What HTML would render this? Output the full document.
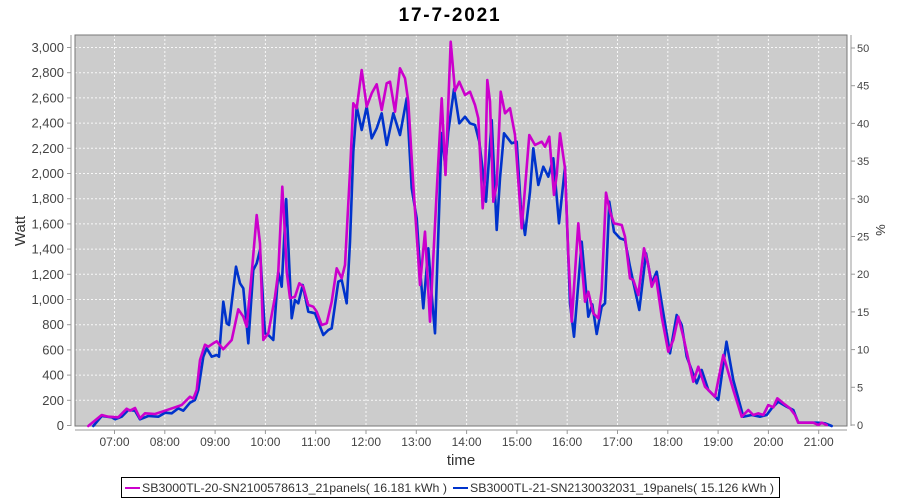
<!DOCTYPE html>
<html><head><meta charset="utf-8">
<style>
html,body{margin:0;padding:0;background:#fff;}
svg{display:block;}
text{font-family:"Liberation Sans",sans-serif;}
</style></head>
<body>
<svg width="900" height="500" viewBox="0 0 900 500" xmlns="http://www.w3.org/2000/svg">
<rect x="0" y="0" width="900" height="500" fill="#ffffff"/>
<text x="450" y="21" text-anchor="middle" font-size="19" font-weight="bold" fill="#000" letter-spacing="1.8">17-7-2021</text>
<rect x="75" y="35" width="772" height="391" fill="#cccccc"/>
<g stroke="#f8f8f8" stroke-width="1" stroke-dasharray="2,2">
<line x1="75" x2="847" y1="400.3" y2="400.3"/><line x1="75" x2="847" y1="375.1" y2="375.1"/>
<line x1="75" x2="847" y1="349.9" y2="349.9"/><line x1="75" x2="847" y1="324.7" y2="324.7"/>
<line x1="75" x2="847" y1="299.5" y2="299.5"/><line x1="75" x2="847" y1="274.3" y2="274.3"/>
<line x1="75" x2="847" y1="249.1" y2="249.1"/><line x1="75" x2="847" y1="223.9" y2="223.9"/>
<line x1="75" x2="847" y1="198.7" y2="198.7"/><line x1="75" x2="847" y1="173.5" y2="173.5"/>
<line x1="75" x2="847" y1="148.3" y2="148.3"/><line x1="75" x2="847" y1="123.1" y2="123.1"/>
<line x1="75" x2="847" y1="97.9" y2="97.9"/><line x1="75" x2="847" y1="72.7" y2="72.7"/>
<line x1="75" x2="847" y1="47.5" y2="47.5"/>
<line y1="35" y2="426" x1="114.5" x2="114.5"/><line y1="35" y2="426" x1="164.8" x2="164.8"/>
<line y1="35" y2="426" x1="215.1" x2="215.1"/><line y1="35" y2="426" x1="265.4" x2="265.4"/>
<line y1="35" y2="426" x1="315.7" x2="315.7"/><line y1="35" y2="426" x1="366" x2="366"/>
<line y1="35" y2="426" x1="416.3" x2="416.3"/><line y1="35" y2="426" x1="466.6" x2="466.6"/>
<line y1="35" y2="426" x1="516.9" x2="516.9"/><line y1="35" y2="426" x1="567.2" x2="567.2"/>
<line y1="35" y2="426" x1="617.5" x2="617.5"/><line y1="35" y2="426" x1="667.8" x2="667.8"/>
<line y1="35" y2="426" x1="718.1" x2="718.1"/><line y1="35" y2="426" x1="768.4" x2="768.4"/>
<line y1="35" y2="426" x1="818.7" x2="818.7"/>
</g>
<rect x="75" y="35" width="772" height="391" fill="none" stroke="#777" stroke-width="1"/>
<polyline fill="none" stroke="#0033cc" stroke-width="2.6" stroke-linejoin="round" stroke-linecap="round" points="93.3,426 101.7,416 111.7,417.3 115,419.3 121.7,416.7 128.3,410 135,410.7 140,419.3 148.3,416 158.3,416.7 165,412.7 171.7,413.3 178.3,408.3 183.3,410.7 190,402.7 195,400 198.3,390 203.3,356.7 206.7,348.3 211.7,356.7 216.7,355 219,356.7 223.3,301.7 226.7,323.3 229,325 236,266.7 240,283.3 243.3,288.3 248.3,343.3 253.3,270 256.7,263.3 260,250 265,333.3 268.3,335 273.3,340 278.3,271.7 281.7,286.7 286.2,199 291.7,318.3 295,300 298.3,303.3 302.7,285 308.3,311.7 315,313.3 323.3,335 328.3,330 331.7,328.3 338.3,281.7 341.7,280 346.7,303.3 350,241.7 353.3,151.7 356.7,106.7 361.7,130 366.7,106.7 371.7,138.3 376.7,128.3 381.7,113.3 386.7,145 393.3,113.3 400,135 406.7,98.3 411.7,188.3 416.7,218.3 420,268.3 423.3,308.3 428.3,248.3 431.7,295 435,333.3 441.7,133 445.3,166.7 448.3,131.7 454,89 459.3,123.3 465,116.7 470,123.3 475,125 479.3,141.7 483.3,175 486,201.7 491.7,120 496.7,230 500,178.3 504,133.3 511.7,143.3 516.7,141.7 520.7,205 525,235 530,191.7 533.3,148.3 538.3,185 543.3,166.7 548.3,176.7 553.3,158.3 559,223.3 565,166.7 570,303.3 574,336.7 581.7,241.7 588.3,316.7 592.3,304.3 596.7,334 601.7,306.7 605,303.3 609.3,201.7 614,231.7 620,238.3 625,240 630,266.7 639.3,310 646,253.3 651.7,283.3 656.7,271.7 661.7,303.3 670,353.3 676.7,315 681.7,325 686.7,356.7 696.7,383.3 701.7,370 708.3,390 718.3,400 726.5,341.7 733.3,380 743.3,416.7 751.7,415 760,416.7 766.7,415 771.7,408.3 778.3,401.7 786.7,406.7 793.3,410 798.3,422.7 816.7,422.7 825,423.3 831.7,426"/>
<polyline fill="none" stroke="#cc00cc" stroke-width="2.6" stroke-linejoin="round" stroke-linecap="round" points="88.3,426 101.7,415 108.3,416.7 118.3,417.3 126.7,408.7 130,410.7 135,408 140,418.3 145,413.3 155,414 165,410.7 175,407.3 181.7,405 190,396.7 193.3,398.7 196.7,390 200,360 205,344.7 208.3,346.7 213.3,343.3 216.7,341.3 223.3,349.3 231.7,340 238.3,309.3 243.3,316.7 246.7,326.7 251.7,273.3 256.7,215 260,243.3 263.3,340 268.3,333.3 275,296.7 278.3,271.7 282.3,186.7 285,235 286.7,271.7 290,298.3 295,296.7 299.3,283.3 303.3,286.7 308.3,305 313.3,306.7 316.7,311.7 321.7,325 326.7,323.3 331.7,301.7 336.7,268.3 341.7,278.3 345,265 350,171.7 353.3,103.3 356.7,108.3 361.7,70 366.7,106.7 371.7,93.3 376.7,84.3 381.7,110 386.7,83.3 390,81.7 395,111.7 400,68.3 405,78.3 408.3,101.7 413.3,185 416.7,235 420,285 425,231.7 430,321.7 436.7,191.7 441.7,98.3 445.5,175 450.7,41.7 455,91 459.3,81.7 465,95 470,91.7 475,105 478.3,118.3 482.7,208.3 485,178.3 487.3,80 490,101.7 493.3,201.7 496.7,185 500.7,91.7 505,113.3 510,108.3 515,135 521.7,228.3 525,188.3 529.3,135 535,145 541.7,141.7 545,146.7 549.3,136.7 554,195 556.7,175 560,133.3 565,168.3 568.3,255 571.7,321.7 578.3,223.3 585,301.7 588.3,291.7 593.3,313.3 598.3,318.3 601.7,290 606,192.7 610,211.7 614,223.3 621.7,225 625,236.7 630,278.3 633.3,280 638.3,295 644,248.3 648.3,265 651.7,286.7 656,276.7 661.7,316.7 668.3,351.7 673.3,340 678.3,316.7 683.3,336.7 690,366.7 693.3,381.7 698.3,366.7 705,386.7 715,396.7 723.3,355 733.3,390 741.7,416.7 748.3,410 753.3,415 758.3,413.3 763.3,415 768.3,405 773.3,407.3 777.3,398.3 783.3,403.3 790,408.3 795,415 798.3,422.7 813.3,422.7 818.3,425 821.7,422.7 826.7,425"/>
<g stroke="#999" stroke-width="1" fill="none">
<line x1="71" x2="71" y1="35" y2="426"/>
<line x1="75" x2="847" y1="430" y2="430"/>
<line x1="851" x2="851" y1="35" y2="426"/>
</g>
<g stroke="#999" stroke-width="1">
<line x1="67" x2="71" y1="425.5" y2="425.5"/><line x1="67" x2="71" y1="400.3" y2="400.3"/>
<line x1="67" x2="71" y1="375.1" y2="375.1"/><line x1="67" x2="71" y1="349.9" y2="349.9"/>
<line x1="67" x2="71" y1="324.7" y2="324.7"/><line x1="67" x2="71" y1="299.5" y2="299.5"/>
<line x1="67" x2="71" y1="274.3" y2="274.3"/><line x1="67" x2="71" y1="249.1" y2="249.1"/>
<line x1="67" x2="71" y1="223.9" y2="223.9"/><line x1="67" x2="71" y1="198.7" y2="198.7"/>
<line x1="67" x2="71" y1="173.5" y2="173.5"/><line x1="67" x2="71" y1="148.3" y2="148.3"/>
<line x1="67" x2="71" y1="123.1" y2="123.1"/><line x1="67" x2="71" y1="97.9" y2="97.9"/>
<line x1="67" x2="71" y1="72.7" y2="72.7"/><line x1="67" x2="71" y1="47.5" y2="47.5"/>
<line x1="851" x2="855" y1="425" y2="425"/><line x1="851" x2="855" y1="387.3" y2="387.3"/>
<line x1="851" x2="855" y1="349.6" y2="349.6"/><line x1="851" x2="855" y1="311.9" y2="311.9"/>
<line x1="851" x2="855" y1="274.2" y2="274.2"/><line x1="851" x2="855" y1="236.5" y2="236.5"/>
<line x1="851" x2="855" y1="198.8" y2="198.8"/><line x1="851" x2="855" y1="161.1" y2="161.1"/>
<line x1="851" x2="855" y1="123.4" y2="123.4"/><line x1="851" x2="855" y1="85.7" y2="85.7"/>
<line x1="851" x2="855" y1="48" y2="48"/>
<line y1="430" y2="434" x1="114.5" x2="114.5"/><line y1="430" y2="434" x1="164.8" x2="164.8"/>
<line y1="430" y2="434" x1="215.1" x2="215.1"/><line y1="430" y2="434" x1="265.4" x2="265.4"/>
<line y1="430" y2="434" x1="315.7" x2="315.7"/><line y1="430" y2="434" x1="366" x2="366"/>
<line y1="430" y2="434" x1="416.3" x2="416.3"/><line y1="430" y2="434" x1="466.6" x2="466.6"/>
<line y1="430" y2="434" x1="516.9" x2="516.9"/><line y1="430" y2="434" x1="567.2" x2="567.2"/>
<line y1="430" y2="434" x1="617.5" x2="617.5"/><line y1="430" y2="434" x1="667.8" x2="667.8"/>
<line y1="430" y2="434" x1="718.1" x2="718.1"/><line y1="430" y2="434" x1="768.4" x2="768.4"/>
<line y1="430" y2="434" x1="818.7" x2="818.7"/>
</g>
<g font-size="13" fill="#444" text-anchor="end">
<text x="64" y="430">0</text><text x="64" y="404.8">200</text><text x="64" y="379.6">400</text>
<text x="64" y="354.4">600</text><text x="64" y="329.2">800</text><text x="64" y="304">1,000</text>
<text x="64" y="278.8">1,200</text><text x="64" y="253.6">1,400</text><text x="64" y="228.4">1,600</text>
<text x="64" y="203.2">1,800</text><text x="64" y="178">2,000</text><text x="64" y="152.8">2,200</text>
<text x="64" y="127.6">2,400</text><text x="64" y="102.4">2,600</text><text x="64" y="77.2">2,800</text>
<text x="64" y="52">3,000</text>
</g>
<g font-size="11" fill="#444">
<text x="857" y="429">0</text><text x="857" y="391.3">5</text><text x="857" y="353.6">10</text>
<text x="857" y="315.9">15</text><text x="857" y="278.2">20</text><text x="857" y="240.5">25</text>
<text x="857" y="202.8">30</text><text x="857" y="165.1">35</text><text x="857" y="127.4">40</text>
<text x="857" y="89.7">45</text><text x="857" y="52">50</text>
</g>
<g font-size="12" fill="#444" text-anchor="middle">
<text x="114.5" y="446">07:00</text><text x="164.8" y="446">08:00</text><text x="215.1" y="446">09:00</text>
<text x="265.4" y="446">10:00</text><text x="315.7" y="446">11:00</text><text x="366" y="446">12:00</text>
<text x="416.3" y="446">13:00</text><text x="466.6" y="446">14:00</text><text x="516.9" y="446">15:00</text>
<text x="567.2" y="446">16:00</text><text x="617.5" y="446">17:00</text><text x="667.8" y="446">18:00</text>
<text x="718.1" y="446">19:00</text><text x="768.4" y="446">20:00</text><text x="818.7" y="446">21:00</text>
</g>
<text x="461" y="465" font-size="15" fill="#333" text-anchor="middle">time</text>
<text transform="translate(25,231) rotate(-90)" font-size="15" fill="#333" text-anchor="middle">Watt</text>
<text transform="translate(876,230) rotate(90)" font-size="13" fill="#333" text-anchor="middle">%</text>
<rect x="121.5" y="477.5" width="658" height="20" fill="#fff" stroke="#000" stroke-width="1"/>
<line x1="125" x2="140" y1="488" y2="488" stroke="#cc00cc" stroke-width="2"/>
<text x="142" y="492" font-size="12" fill="#333" textLength="305" lengthAdjust="spacingAndGlyphs">SB3000TL-20-SN2100578613_21panels( 16.181 kWh )</text>
<line x1="453" x2="468" y1="488" y2="488" stroke="#0033cc" stroke-width="2"/>
<text x="470" y="492" font-size="12" fill="#333" textLength="304" lengthAdjust="spacingAndGlyphs">SB3000TL-21-SN2130032031_19panels( 15.126 kWh )</text>
</svg>
</body></html>
